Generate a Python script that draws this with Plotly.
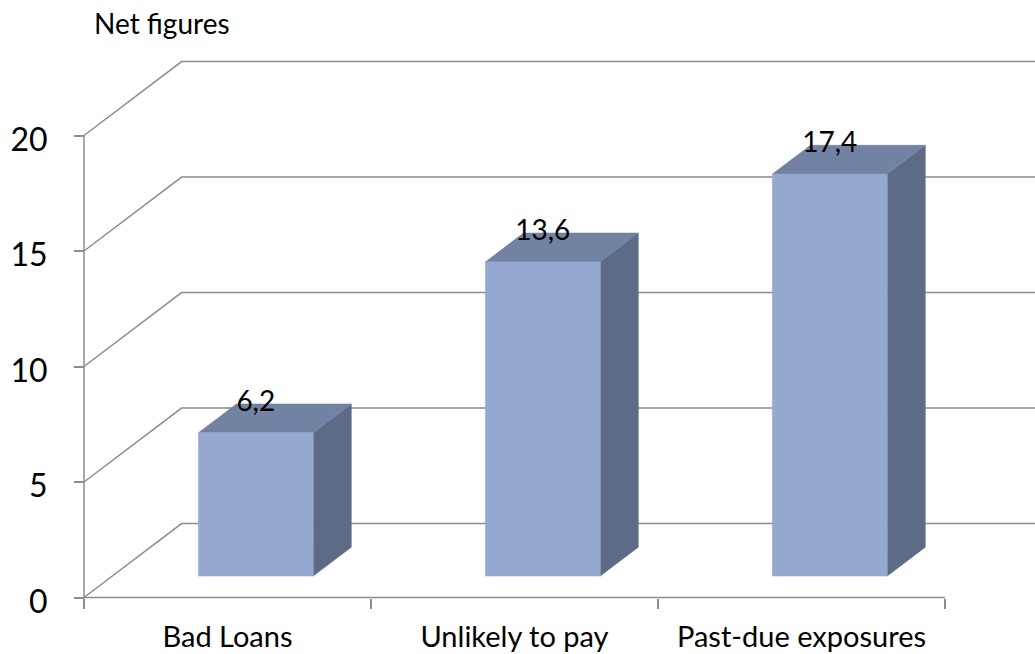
import plotly.graph_objects as go

# ---- data ----
categories = ["Bad Loans", "Unlikely to pay", "Past-due exposures"]
values = [6.2, 13.6, 17.4]
value_labels = ["6,2", "13,6", "17,4"]
y_ticks = [0, 5, 10, 15, 20]
y_tick_text = ["0", "5", "10", "15", "20"]

# ---- 3D-look geometry (oblique projection of the depth axis) ----
DEPTH_DX = 0.34     # horizontal shift, category units per unit of depth
DEPTH_DY = 3.2      # vertical shift, value units per unit of depth
BAR_WIDTH = 0.4
BAR_FRONT = 0.29    # depth of the bar front face
BAR_BACK = 0.68     # depth of the bar back face

W, H = 1035, 654
PX_X = 287.0        # pixels per category
PX_Y = 23.1         # pixels per value unit
ORIGIN = (84.0, 597.5)

x_range = [-ORIGIN[0] / PX_X, (W - ORIGIN[0]) / PX_X]
y_range = [-(H - ORIGIN[1]) / PX_Y, ORIGIN[1] / PX_Y]

GRID = "#8c8c8c"
FRONT = "#95a9d0"
TOP = "#7282a2"
SIDE = "#5d6b87"
FONT = "Lato"


def proj(x, y, d):
    return x + d * DEPTH_DX, y + d * DEPTH_DY


def poly(points, color):
    xs = [p[0] for p in points] + [points[0][0]]
    ys = [p[1] for p in points] + [points[0][1]]
    return go.Scatter(x=xs, y=ys, mode="lines", fill="toself",
                      fillcolor=color, line=dict(color=color, width=0.6),
                      hoverinfo="skip", showlegend=False)


def line(xs, ys):
    return go.Scatter(x=xs, y=ys, mode="lines",
                      line=dict(color=GRID, width=1.5),
                      hoverinfo="skip", showlegend=False)


fig = go.Figure()

n = len(categories)

# walls: back gridlines and side-wall diagonals
for v in y_ticks:
    bx, by = proj(0, v, 1)
    fig.add_trace(line([0, bx, x_range[1]], [v, by, by]))

# front axes lines
fig.add_trace(line([0, 0], [0, y_ticks[-1]]))
fig.add_trace(line([0, n], [0, 0]))

# bars
for i, v in enumerate(values):
    x0 = i + 0.5 - BAR_WIDTH / 2
    x1 = i + 0.5 + BAR_WIDTH / 2
    side = [proj(x1, 0, BAR_FRONT), proj(x1, 0, BAR_BACK),
            proj(x1, v, BAR_BACK), proj(x1, v, BAR_FRONT)]
    top = [proj(x0, v, BAR_FRONT), proj(x1, v, BAR_FRONT),
           proj(x1, v, BAR_BACK), proj(x0, v, BAR_BACK)]
    front = [proj(x0, 0, BAR_FRONT), proj(x1, 0, BAR_FRONT),
             proj(x1, v, BAR_FRONT), proj(x0, v, BAR_FRONT)]
    fig.add_trace(poly(side, SIDE))
    fig.add_trace(poly(top, TOP))
    fig.add_trace(poly(front, FRONT))

# value labels above each bar
lx = [proj(i + 0.5, v, BAR_FRONT)[0] for i, v in enumerate(values)]
ly = [proj(i + 0.5, v, BAR_BACK)[1] for i, v in enumerate(values)]
fig.add_trace(go.Scatter(x=lx, y=ly, mode="text", text=value_labels,
                         textposition="middle center",
                         textfont=dict(family=FONT, size=28, color="#000000"),
                         hoverinfo="skip", showlegend=False))

fig.update_layout(
    width=W, height=H,
    margin=dict(l=0, r=0, t=0, b=0),
    paper_bgcolor="white", plot_bgcolor="white",
    showlegend=False,
    xaxis=dict(
        range=x_range, anchor="free",
        position=(0 - y_range[0]) / (y_range[1] - y_range[0]),
        showgrid=False, zeroline=False, showline=False,
        tickvals=[i + 0.5 for i in range(n)], ticktext=categories,
        ticks="", ticklabelstandoff=19,
        tickfont=dict(family=FONT, size=29, color="#000000"),
        minor=dict(tickvals=list(range(n + 1)), ticks="outside",
                   ticklen=10, tickwidth=1.5, tickcolor=GRID),
        automargin=False, fixedrange=True,
    ),
    yaxis=dict(
        range=y_range, anchor="free",
        position=(0 - x_range[0]) / (x_range[1] - x_range[0]),
        showgrid=False, zeroline=False, showline=False,
        tickvals=y_ticks, ticktext=y_tick_text,
        ticks="outside", ticklen=10, tickwidth=1.5, tickcolor=GRID,
        ticklabelstandoff=20, ticklabelshift=4,
        tickfont=dict(family=FONT, size=32, color="#000000"),
        automargin=False, fixedrange=True,
    ),
    annotations=[dict(
        text="Net figures", xref="paper", yref="paper",
        x=92 / W, y=1 - 23 / H, xanchor="left", yanchor="middle",
        showarrow=False, font=dict(family=FONT, size=28, color="#000000"),
    )],
)

fig.write_html("out.html")
